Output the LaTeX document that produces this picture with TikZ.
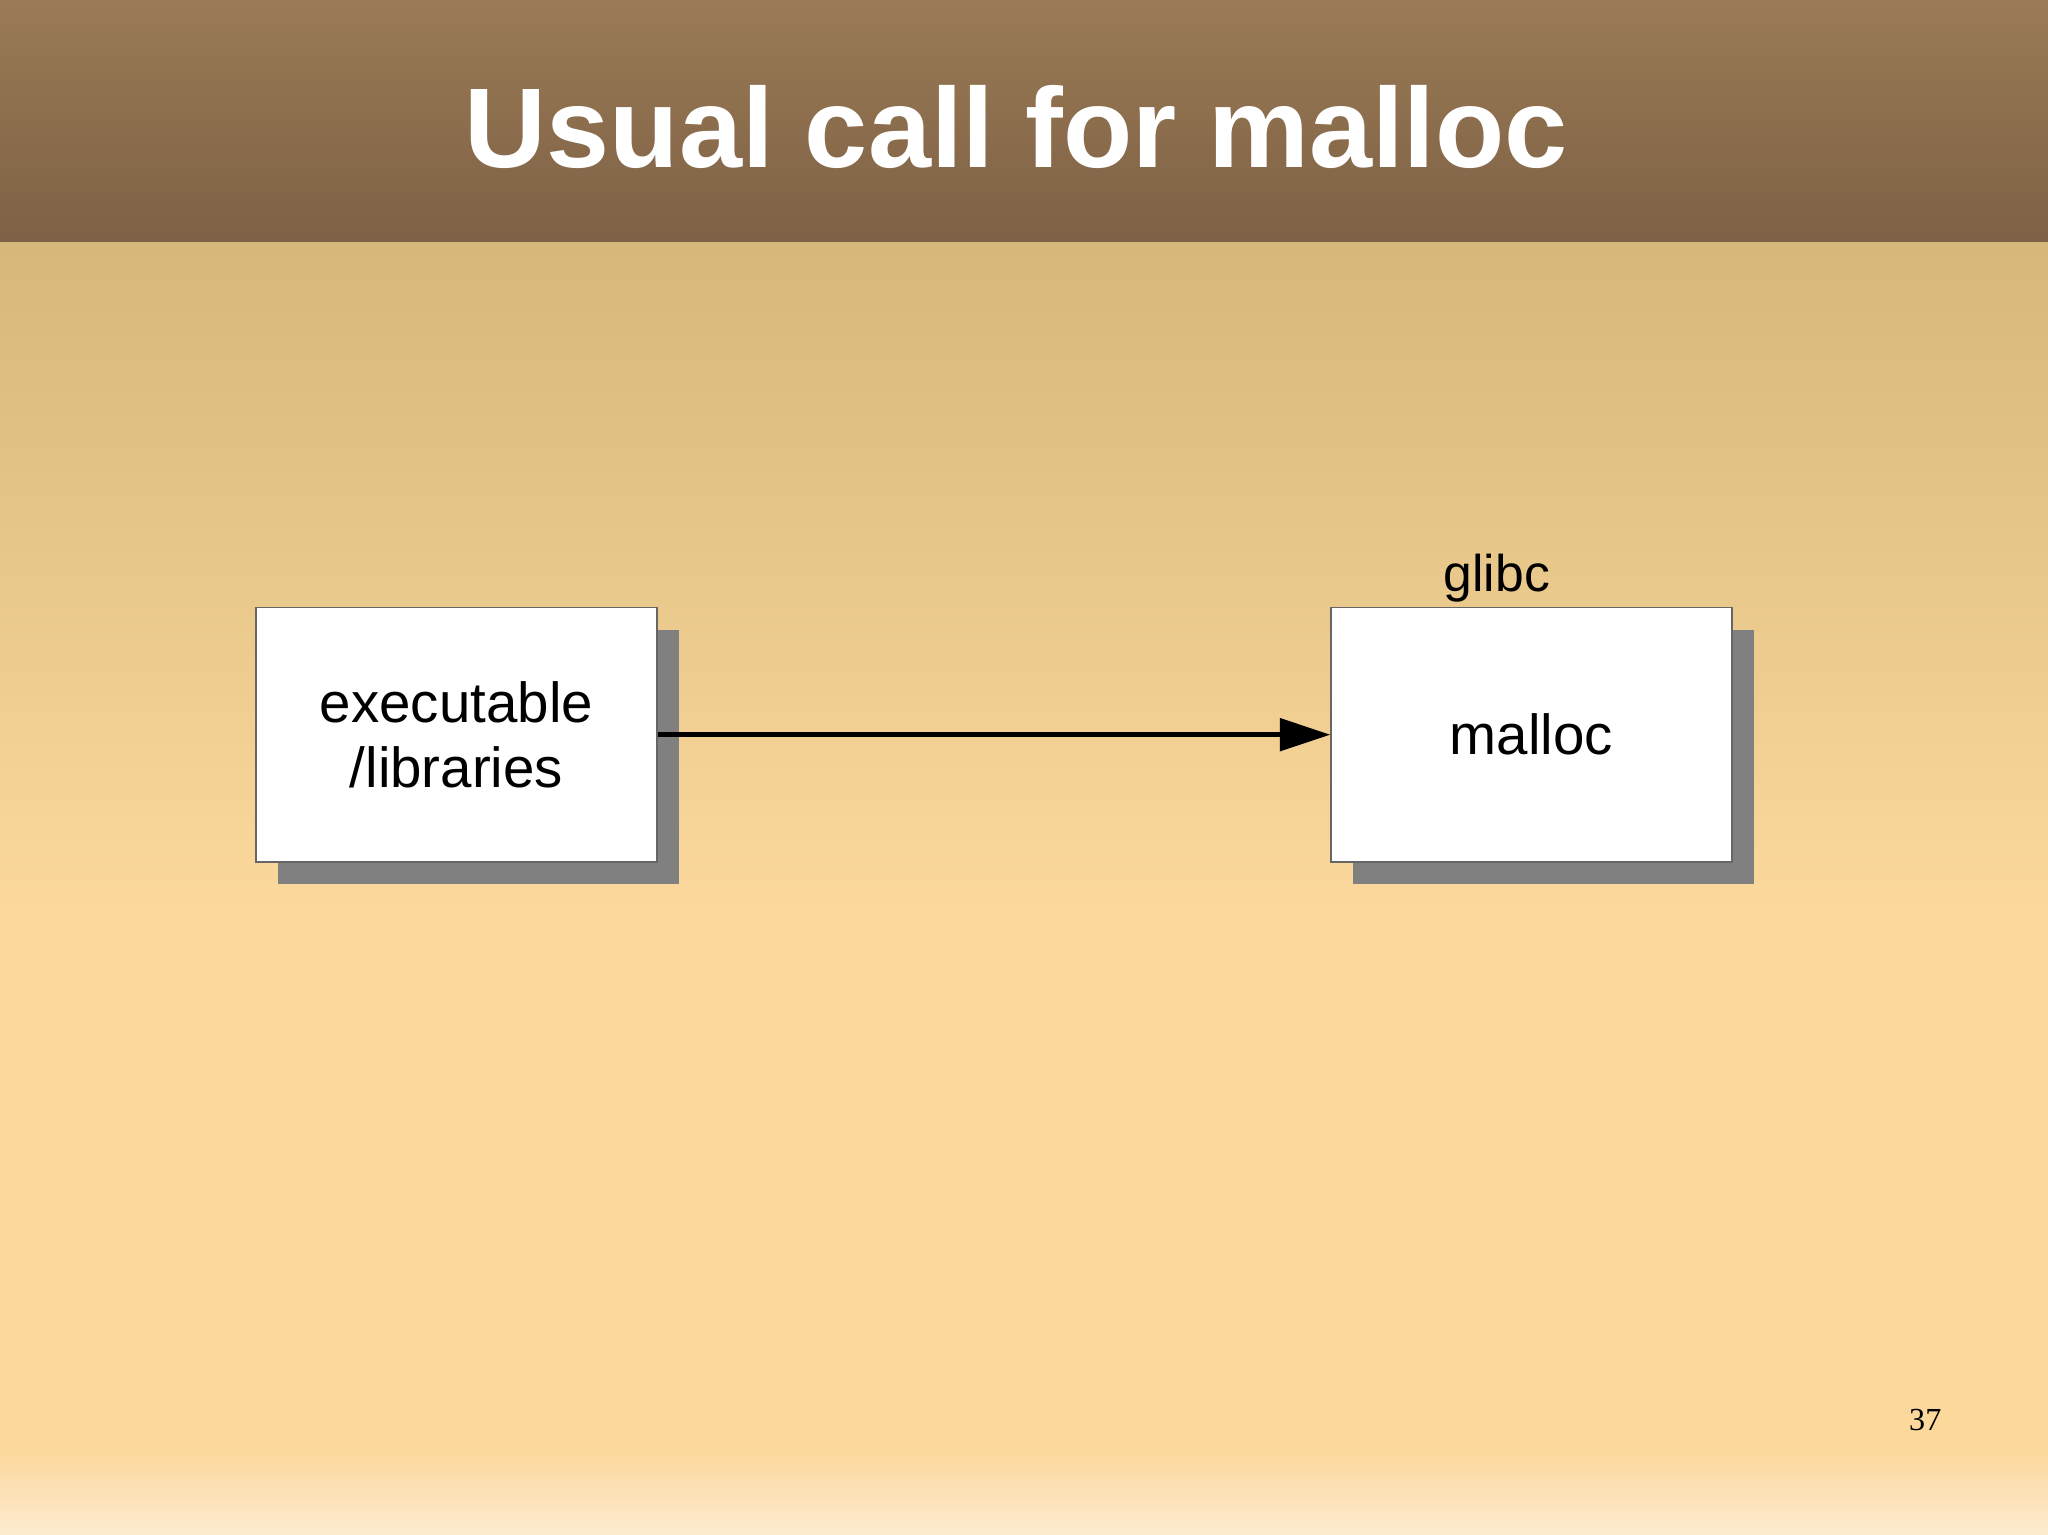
\documentclass[tikz,border=0pt]{standalone}
\usepackage{fontspec}
\setmainfont{Liberation Sans}
\usetikzlibrary{arrows.meta}
\definecolor{hdtop}{HTML}{9A7B55}
\definecolor{hdbot}{HTML}{7E6146}
\definecolor{bgtop}{HTML}{D6B87A}
\definecolor{bgmid}{HTML}{FCD89C}
\definecolor{bgbot}{HTML}{FDEBD0}
\definecolor{shad}{HTML}{808080}
\tikzset{
  boxs/.style={draw=black!60, line width=0.6pt, fill=white, minimum width=6.14cm, minimum height=3.9cm, inner sep=0pt, align=center, font=\fontsize{24.6}{28.5}\selectfont},
}
\begin{document}
\begin{tikzpicture}[x=0.02cm,y=-0.02cm]
\useasboundingbox (0,0) rectangle (1568,1175);
\shade[top color=hdtop, bottom color=hdbot] (0,0) rectangle (1568,186);
\shade[top color=bgtop, bottom color=bgmid] (0,186) rectangle (1568,700);
\fill[bgmid] (0,699) rectangle (1568,1111);
\shade[top color=bgmid, bottom color=bgbot] (0,1110) rectangle (1568,1175);
\node[text=white, font=\bfseries\fontsize{49.4}{58}\selectfont] (title) at (778,97) {Usual call for malloc};
\fill[shad] (213,482) rectangle (520,677);
\fill[shad] (1036,482) rectangle (1343,677);
\node[boxs] (exe) at (349.5,562.5) {executable\\/libraries};
\node[boxs] (mal) at (1172.5,562.5) {malloc};
\node[font=\fontsize{22.5}{26}\selectfont] (glibc) at (1146,443) {glibc};
\draw[line width=2.2pt, -{Triangle[length=22pt,width=14pt]}] (exe.east) -- (mal.west);
\node[font=\fontsize{14}{16}\selectfont, text=black] (pg) at (1474,1087) {\setmainfont{Liberation Serif}37};
\end{tikzpicture}
\end{document}
